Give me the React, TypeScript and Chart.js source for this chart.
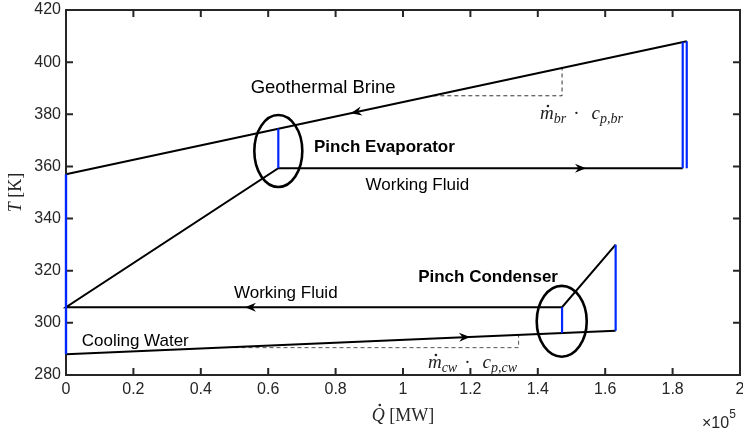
import React, { useEffect, useRef } from 'react';
import { Chart, registerables } from 'chart.js';

Chart.register(...registerables);

// ---- data (x axis in units of 1e5, as shown on the axis) ----
const brineQ = [0, 1.842];
const brineT = [357, 408];

const workingFluidQ = [1.631, 1.472, 0, 0.63, 1.83];
const workingFluidT = [330, 306, 306, 359.3, 359.3];

const coolingQ = [0, 1.631];
const coolingT = [288, 297];

// blue vertical segments (pinch / end lines)
const pinchSegQ = [[0, 0], [0.63, 0.63], [1.472, 1.472], [1.631, 1.631], [1.83, 1.83], [1.842, 1.842]];
const pinchSegT = [[288, 357], [359.3, 374.5], [306, 296.1], [330, 297], [359.3, 407.7], [359.3, 408]];

// dashed slope triangles
const brineSlopeQ = [1.09, 1.472, 1.472];
const brineSlopeT = [387.1, 387.1, 397.8];
const coolingSlopeQ = [0.5, 1.343, 1.343];
const coolingSlopeT = [290.5, 290.5, 295.4];

// arrows along the lines
const arrowTailQ = [0.9, 1.49, 0.58, 1.15];
const arrowTailT = [381.9, 359.3, 306, 294.35];
const arrowTipQ = [0.845, 1.543, 0.531, 1.199];
const arrowTipT = [380.4, 359.3, 306, 294.62];

// pinch ellipses: centre and radii in data units
const ellipseQ = [0.63, 1.471];
const ellipseT = [365.9, 300.6];
const ellipseRQ = [0.0712, 0.0742];
const ellipseRT = [13.8, 13.6];

const xTickValues = [0, 0.2, 0.4, 0.6, 0.8, 1, 1.2, 1.4, 1.6, 1.8, 2];
const xTickLabels = ['0', '0.2', '0.4', '0.6', '0.8', '1', '1.2', '1.4', '1.6', '1.8', '2'];
const yTickValues = [280, 300, 320, 340, 360, 380, 400, 420];
const yTickLabels = ['280', '300', '320', '340', '360', '380', '400', '420'];

const labelTexts = ['Geothermal Brine', 'Pinch Evaporator', 'Working Fluid', 'Working Fluid', 'Pinch Condenser', 'Cooling Water'];
const labelQ = [0.763, 0.736, 0.889, 0.4985, 1.045, 0.0466];
const labelT = [388.2, 365.4, 351.0, 309.65, 315.8, 291.1];
const labelBold = [false, true, false, false, true, false];
const labelSize = [18.5, 17, 17, 17, 17, 17];
const labelAlign = ['center', 'left', 'left', 'left', 'left', 'left'];

const AXIS = '#262626';
const BLUE = 'rgb(0, 40, 255)';
const SANS = '"Liberation Sans", Arial, Helvetica, sans-serif';
const SERIF = '"Liberation Serif", "Times New Roman", serif';

function pts(q: number[], t: number[]) {
  return q.map((v, i) => ({ x: v, y: t[i] }));
}

function drawDot(ctx: CanvasRenderingContext2D, x: number, y: number, r: number) {
  ctx.beginPath();
  ctx.arc(x, y, r, 0, Math.PI * 2);
  ctx.fill();
}

// composite math label: m-dot_{sub1} · c_{sub2}
function drawMathLabel(ctx: CanvasRenderingContext2D, x: number, y: number, sub1: string, sub2: string) {
  const main = 'italic 19px ' + SERIF;
  const sub = 'italic 14px ' + SERIF;
  ctx.textAlign = 'left';
  ctx.textBaseline = 'alphabetic';
  let cx = x;
  ctx.font = main;
  const mw = ctx.measureText('m').width;
  ctx.fillText('m', cx, y);
  drawDot(ctx, cx + mw * 0.58, y - 13, 1.3);
  cx += mw;
  ctx.font = sub;
  ctx.fillText(sub1, cx, y + 4);
  cx += ctx.measureText(sub1).width + 7;
  ctx.font = '19px ' + SERIF;
  ctx.fillText('\u00b7', cx, y);
  cx += ctx.measureText('\u00b7').width + 12;
  ctx.font = main;
  ctx.fillText('c', cx, y);
  cx += ctx.measureText('c').width;
  ctx.font = sub;
  ctx.fillText(sub2, cx, y + 4);
}

function drawFrame(chart: any) {
  const ctx: CanvasRenderingContext2D = chart.ctx;
  const a = chart.chartArea;
  const xs = chart.scales.x;
  const ys = chart.scales.y;
  const tl = 7;
  ctx.save();
  ctx.setLineDash([]);
  ctx.globalAlpha = 1;
  ctx.strokeStyle = AXIS;
  ctx.lineWidth = 2;
  ctx.strokeRect(a.left, a.top, a.right - a.left, a.bottom - a.top);
  ctx.beginPath();
  xTickValues.forEach((v) => {
    const px = xs.getPixelForValue(v);
    ctx.moveTo(px, a.bottom);
    ctx.lineTo(px, a.bottom - tl);
    ctx.moveTo(px, a.top);
    ctx.lineTo(px, a.top + tl);
  });
  yTickValues.forEach((v) => {
    const py = ys.getPixelForValue(v);
    ctx.moveTo(a.left, py);
    ctx.lineTo(a.left + tl, py);
    ctx.moveTo(a.right, py);
    ctx.lineTo(a.right - tl, py);
  });
  ctx.stroke();
  ctx.restore();
}

const overlayPlugin = {
  id: 'overlay',
  afterDraw(chart: any) {
    const { ctx, chartArea: a, scales } = chart;
    const xs = scales.x;
    const ys = scales.y;
    ctx.save();
    // ellipses
    ctx.strokeStyle = '#000';
    ctx.lineWidth = 2.6;
    ellipseQ.forEach((q, i) => {
      const cx = xs.getPixelForValue(q);
      const cy = ys.getPixelForValue(ellipseT[i]);
      const rx = Math.abs(xs.getPixelForValue(q + ellipseRQ[i]) - cx);
      const ry = Math.abs(ys.getPixelForValue(ellipseT[i] + ellipseRT[i]) - cy);
      ctx.beginPath();
      ctx.ellipse(cx, cy, rx, ry, 0, 0, Math.PI * 2);
      ctx.stroke();
    });
    // arrows
    ctx.fillStyle = '#000';
    arrowTipQ.forEach((q, i) => {
      const x2 = xs.getPixelForValue(q);
      const y2 = ys.getPixelForValue(arrowTipT[i]);
      const x1 = xs.getPixelForValue(arrowTailQ[i]);
      const y1 = ys.getPixelForValue(arrowTailT[i]);
      const ang = Math.atan2(y2 - y1, x2 - x1);
      ctx.save();
      ctx.translate(x2, y2);
      ctx.rotate(ang);
      ctx.beginPath();
      ctx.moveTo(0, 0);
      ctx.lineTo(-11, -4.5);
      ctx.lineTo(-7.5, 0);
      ctx.lineTo(-11, 4.5);
      ctx.closePath();
      ctx.fill();
      ctx.restore();
    });
    // text labels
    labelTexts.forEach((txt, i) => {
      ctx.font = (labelBold[i] ? 'bold ' : '') + labelSize[i] + 'px ' + SANS;
      ctx.textAlign = labelAlign[i] as CanvasTextAlign;
      ctx.textBaseline = 'alphabetic';
      ctx.fillText(txt, xs.getPixelForValue(labelQ[i]), ys.getPixelForValue(labelT[i]));
    });
    // math labels
    ctx.fillStyle = '#222';
    drawMathLabel(ctx, xs.getPixelForValue(1.4065), ys.getPixelForValue(378.2), 'br', 'p,br');
    drawMathLabel(ctx, xs.getPixelForValue(1.074), ys.getPixelForValue(282.7), 'cw', 'p,cw');

    // x axis title: Q-dot [MW]
    ctx.fillStyle = AXIS;
    ctx.textBaseline = 'alphabetic';
    ctx.textAlign = 'left';
    const fI = 'italic 18px ' + SERIF;
    const fR = '18px ' + SERIF;
    ctx.font = fI;
    const qw = ctx.measureText('Q').width;
    ctx.font = fR;
    const rw = ctx.measureText(' [MW]').width;
    const sx = (a.left + a.right) / 2 - (qw + rw) / 2;
    const by = 421;
    ctx.font = fI;
    ctx.fillText('Q', sx, by);
    drawDot(ctx, sx + qw * 0.62, by - 16, 1.3);
    ctx.font = fR;
    ctx.fillText(' [MW]', sx + qw, by);

    // y axis title: T [K]
    ctx.save();
    ctx.translate(20.5, (a.top + a.bottom) / 2);
    ctx.rotate(-Math.PI / 2);
    ctx.font = fI;
    const tw = ctx.measureText('T').width;
    ctx.font = fR;
    const kw = ctx.measureText(' [K]').width;
    const s0 = -(tw + kw) / 2;
    ctx.font = fI;
    ctx.fillText('T', s0, 0);
    ctx.font = fR;
    ctx.fillText(' [K]', s0 + tw, 0);
    ctx.restore();

    // exponent x10^5
    ctx.font = '16px ' + SANS;
    ctx.fillText('\u00d710', 702, 428);
    const ew = ctx.measureText('\u00d710').width;
    ctx.font = '12px ' + SANS;
    ctx.fillText('5', 702 + ew, 418);
    ctx.restore();

    // axes box with inward ticks, drawn last
    drawFrame(chart);

    // the blue segment on the left axis lies over the axis in the reference
    const meta = chart.getDatasetMeta(0);
    ctx.save();
    ctx.setLineDash([]);
    ctx.strokeStyle = BLUE;
    ctx.lineWidth = 2.2;
    ctx.beginPath();
    meta.data.forEach((p: any, i: number) => {
      if (i === 0) ctx.moveTo(p.x, p.y);
      else ctx.lineTo(p.x, p.y);
    });
    ctx.stroke();
    ctx.restore();
  },
};

export default function App() {
  const ref = useRef<HTMLCanvasElement | null>(null);
  useEffect(() => {
    if (!ref.current) return;
    const blueSets = pinchSegQ.map((q, i) => ({
      data: pts(q, pinchSegT[i]),
      borderColor: BLUE,
      borderWidth: 2.2,
      showLine: true,
      pointRadius: 0,
      clip: 6,
    }));
    const chart = new Chart(ref.current, {
      type: 'scatter',
      data: {
        datasets: [
          ...blueSets,
          { data: pts(brineQ, brineT), borderColor: '#000', borderWidth: 2, showLine: true, pointRadius: 0, clip: 6 },
          { data: pts(workingFluidQ, workingFluidT), borderColor: '#000', borderWidth: 2, showLine: true, pointRadius: 0, clip: 6 },
          { data: pts(coolingQ, coolingT), borderColor: '#000', borderWidth: 2, showLine: true, pointRadius: 0, clip: 6 },
          { data: pts(brineSlopeQ, brineSlopeT), borderColor: '#333', borderWidth: 1, borderDash: [4, 3], showLine: true, pointRadius: 0 },
          { data: pts(coolingSlopeQ, coolingSlopeT), borderColor: '#555', borderWidth: 1, borderDash: [4, 3], showLine: true, pointRadius: 0 },
        ] as any,
      },
      options: {
        responsive: false,
        animation: false,
        devicePixelRatio: 1,
        layout: { padding: { top: 10, right: 3, left: 0, bottom: 0 } },
        plugins: { legend: { display: false }, tooltip: { enabled: false } },
        scales: {
          x: {
            type: 'linear',
            min: 0,
            max: 2,
            afterBuildTicks: (s: any) => {
              s.ticks = xTickValues.map((v) => ({ value: v }));
            },
            afterFit: (s: any) => {
              s.height = 56;
              s.paddingLeft = 0;
              s.paddingRight = 0;
            },
            ticks: {
              autoSkip: false,
              maxRotation: 0,
              padding: 5,
              color: AXIS,
              font: { family: SANS, size: 16 },
              callback: (_v: any, i: number) => xTickLabels[i],
            },
            grid: { display: false, drawTicks: false },
            border: { display: false },
          },
          y: {
            type: 'linear',
            min: 280,
            max: 420,
            afterBuildTicks: (s: any) => {
              s.ticks = yTickValues.map((v) => ({ value: v }));
            },
            afterFit: (s: any) => {
              s.width = 66;
              s.paddingTop = 0;
              s.paddingBottom = 0;
            },
            ticks: {
              autoSkip: false,
              padding: 5,
              color: AXIS,
              font: { family: SANS, size: 16 },
              callback: (_v: any, i: number) => yTickLabels[i],
            },
            grid: { display: false, drawTicks: false },
            border: { display: false },
          },
        },
      } as any,
      plugins: [overlayPlugin],
    });
    return () => chart.destroy();
  }, []);
  return (
    <div style={{ position: 'absolute', left: 0, top: 0, width: 743, height: 431, background: '#fff' }}>
      <canvas ref={ref} width={743} height={431} style={{ display: 'block' }} />
    </div>
  );
}
